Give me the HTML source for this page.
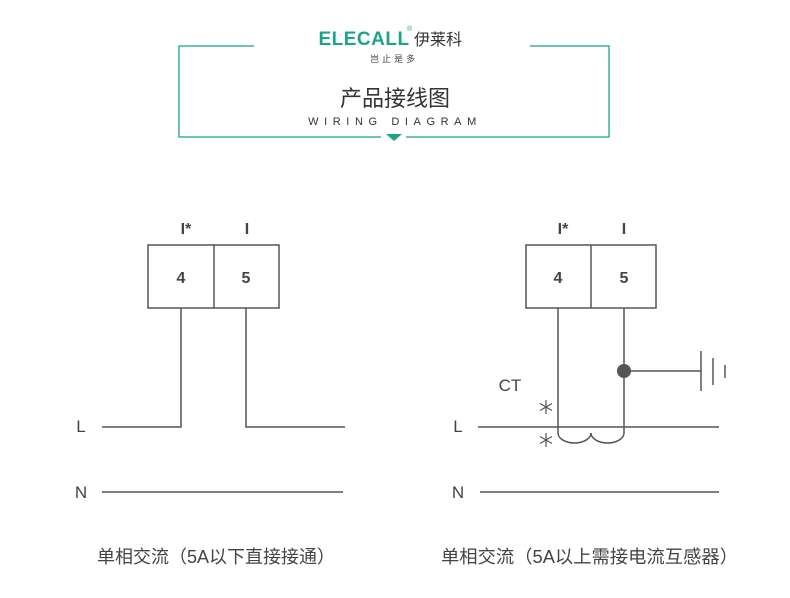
<!DOCTYPE html>
<html><head><meta charset="utf-8"><style>
html,body{margin:0;padding:0;background:#fff;width:790px;height:598px;overflow:hidden}
svg{display:block}
text{font-family:"Liberation Sans","Noto Sans CJK SC",sans-serif}
</style></head><body>
<svg width="790" height="598" viewBox="0 0 790 598" xmlns="http://www.w3.org/2000/svg">
<g stroke="#1aa58a" stroke-width="1.3" fill="none">
<path d="M254 46H179V137H381M406 137H609V46H530"/>
</g>
<path d="M386 134H402L394 141Z" fill="#1aa58a"/>
<text x="364" y="45" text-anchor="middle" font-size="19" font-weight="bold" fill="#1aa58a" letter-spacing="0.5">ELECALL</text>
<text x="407" y="31" font-size="7" fill="#1aa58a">®</text>
<text x="438" y="45" text-anchor="middle" font-size="16" fill="#333">伊莱科</text>
<text x="394" y="62" text-anchor="middle" font-size="9" fill="#444" letter-spacing="3">岂止是多</text>
<text x="395" y="106" text-anchor="middle" font-size="22" fill="#333">产品接线图</text>
<text x="395" y="125" text-anchor="middle" font-size="11" fill="#333" letter-spacing="5.6">WIRING DIAGRAM</text>

<g stroke="#555" stroke-width="1.5" fill="none">
<rect x="148" y="245" width="131" height="63"/><line x1="214" y1="245" x2="214" y2="308"/>
<path d="M181 308V427H102M246 308V427H345"/>
<line x1="102" y1="492" x2="343" y2="492"/>
<rect x="526" y="245" width="130" height="63"/><line x1="591" y1="245" x2="591" y2="308"/>
<path d="M558 308V427M624 308V427"/>
<line x1="478" y1="427" x2="719" y2="427"/>
<line x1="480" y1="492" x2="719" y2="492"/>
<path d="M558 427V433A16.5 10 0 0 0 591 433A16.5 10 0 0 0 624 433V427"/>
<line x1="624" y1="371" x2="701" y2="371"/>
<line x1="701" y1="351" x2="701" y2="391"/>
<line x1="713" y1="358" x2="713" y2="385"/>
<line x1="725" y1="365" x2="725" y2="378"/>
</g>
<g stroke="#555" stroke-width="1.2">
<path d="M546 400V414M540 403.5L552 410.5M540 410.5L552 403.5"/>
<path d="M546 433V447M540 436.5L552 443.5M540 443.5L552 436.5"/>
</g>
<circle cx="624" cy="371" r="7" fill="#555"/>
<g fill="#444" font-size="16" font-weight="bold" text-anchor="middle">
<text x="186" y="234">I*</text><text x="247" y="234">I</text>
<text x="181" y="283">4</text><text x="246" y="283">5</text>
<text x="563" y="234">I*</text><text x="624" y="234">I</text>
<text x="558" y="283">4</text><text x="624" y="283">5</text>
</g>
<g fill="#444" font-size="17" text-anchor="middle">
<text x="81" y="432">L</text><text x="81" y="498">N</text>
<text x="458" y="432">L</text><text x="458" y="498">N</text>
<text x="510" y="391">CT</text>
</g>
<g fill="#444" font-size="18">
<text x="97" y="563" textLength="238" lengthAdjust="spacingAndGlyphs">单相交流（5A以下直接接通）</text>
<text x="441" y="563" textLength="297" lengthAdjust="spacingAndGlyphs">单相交流（5A以上需接电流互感器）</text>
</g>
</svg>
</body></html>
